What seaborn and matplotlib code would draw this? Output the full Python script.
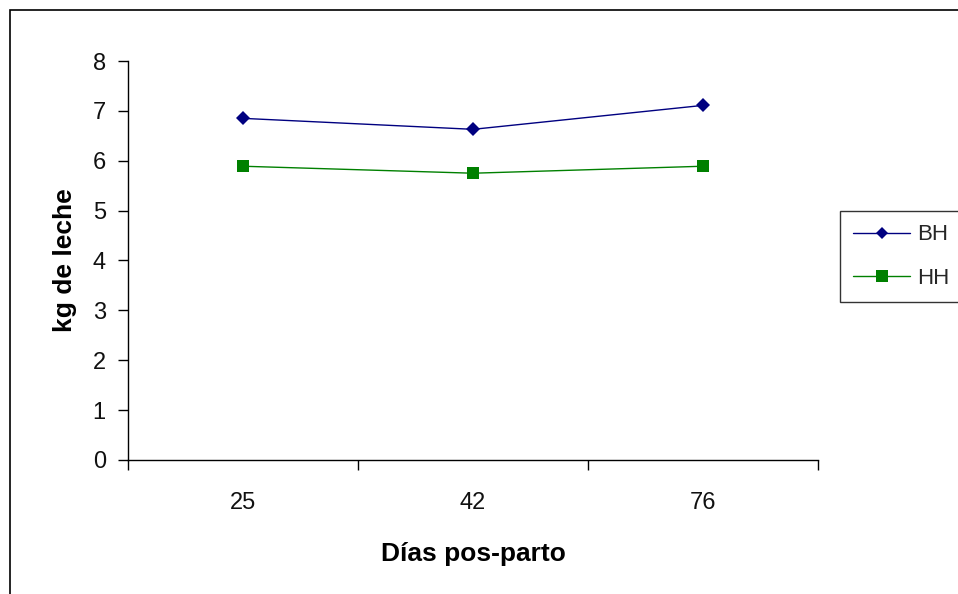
import matplotlib.pyplot as plt
import matplotlib as mpl
import seaborn as sns
import pandas as pd
from matplotlib.patches import Rectangle

dias = ["25", "42", "76"]
bh = [6.85, 6.63, 7.11]
hh = [5.89, 5.75, 5.89]

sns.set_theme(style="white")
mpl.rcParams['font.family'] = ['Liberation Sans', 'DejaVu Sans']

df = pd.DataFrame({
    "pos": list(range(len(dias))) * 2,
    "kg": bh + hh,
    "grupo": ["BH"] * len(dias) + ["HH"] * len(dias),
})

fig = plt.figure(figsize=(9.58, 5.94), dpi=100)
ax = fig.add_axes([0.1336, 0.2256, 0.7203, 0.6717])

sns.lineplot(data=df, x="pos", y="kg", hue="grupo", style="grupo",
             palette={"BH": "#000080", "HH": "#008000"},
             markers={"BH": "D", "HH": "s"}, dashes=False,
             linewidth=1, markeredgewidth=0, ax=ax, legend=False)
# tamaños de marcador por serie
for line, ms in zip(ax.get_lines(), [7, 9]):
    line.set_markersize(ms)

ax.set_xlim(-0.5, len(dias) - 0.5)
ax.set_ylim(0, 8)
ax.set_yticks(range(0, 9))
ax.set_xticks([i - 0.5 for i in range(len(dias) + 1)])
ax.set_xticklabels([])
ax.set_xticks(range(len(dias)), minor=True)
ax.set_xticklabels(dias, minor=True)
ax.tick_params(axis="x", which="major", direction="out", length=7, width=1, color="black", bottom=True)
ax.tick_params(axis="x", which="minor", length=0, pad=23, labelsize=17)
ax.tick_params(axis="y", direction="out", length=7, width=1, color="black", left=True, labelsize=17, pad=9)

for s in ["top", "right"]:
    ax.spines[s].set_visible(False)
for s in ["left", "bottom"]:
    ax.spines[s].set_color("black")
    ax.spines[s].set_linewidth(1)

ax.set_xlabel("Días pos-parto", fontsize=19, fontweight="bold", labelpad=20, color="black")
ax.set_ylabel("kg de leche", fontsize=19, fontweight="bold", labelpad=11, color="black")
for lbl in ax.get_xticklabels(minor=True) + ax.get_yticklabels():
    lbl.set_color("#111111")

# leyenda
handles = [
    plt.Line2D([], [], color="#000080", marker="D", markersize=6, linewidth=1, markeredgewidth=0),
    plt.Line2D([], [], color="#008000", marker="s", markersize=9, linewidth=1, markeredgewidth=0),
]
leg = fig.legend(handles, ["BH", "HH"], loc="upper left", bbox_to_anchor=(0.8768, 0.6448),
                 frameon=True, fancybox=False, fontsize=16, handlelength=2.55,
                 borderpad=0.6, labelspacing=1.0, handletextpad=0.3, borderaxespad=0)
leg.get_frame().set_edgecolor("black")
leg.get_frame().set_linewidth(1)

# marco exterior
fig.patches.append(Rectangle((10 / 958, -0.1), 1.2, 1 - 10 / 594 + 0.1,
                             transform=fig.transFigure, fill=False,
                             edgecolor="black", linewidth=1.2))

fig.savefig("out.png", dpi=100)
plt.close(fig)
